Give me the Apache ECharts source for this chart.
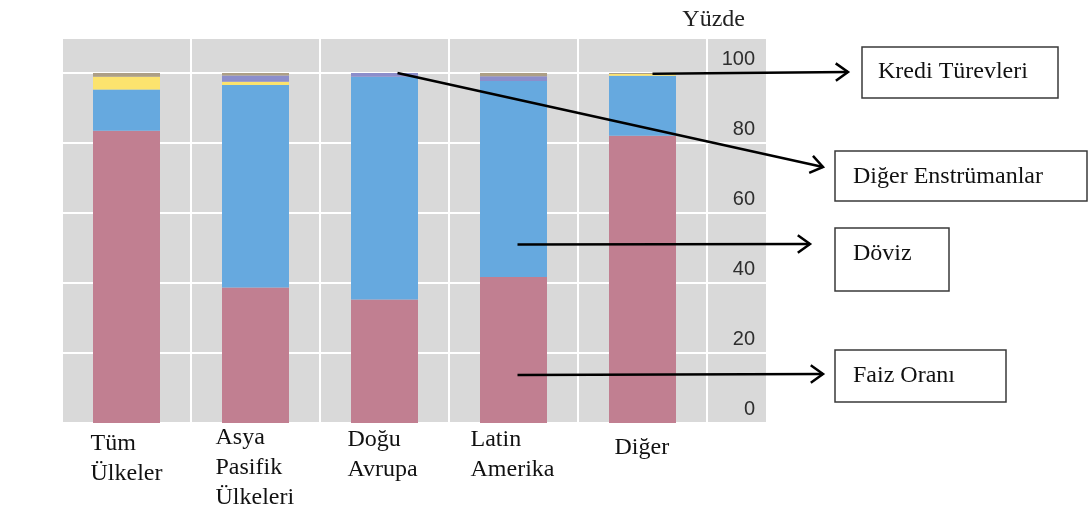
<!DOCTYPE html>
<html>
<head>
<meta charset="utf-8">
<script src="https://cdn.jsdelivr.net/npm/echarts@6/dist/echarts.min.js"></script>
<style>
  html, body { margin: 0; padding: 0; background: #ffffff; }
  #chart { width: 1089px; height: 518px; }
</style>
</head>
<body>
<div id="chart"></div>
<script>
// Bölgelere göre tezgâhüstü türev işlemlerin dağılımı (yüzde)
const categories = ['Tüm\nÜlkeler', 'Asya\nPasifik\nÜlkeleri', 'Doğu\nAvrupa', 'Latin\nAmerika', 'Diğer'];

const faizOrani         = [83.5, 38.7, 35.3, 41.7, 82.1];
const doviz             = [11.8, 57.9, 63.6, 56.0, 17.1];
const krediTurevleri    = [3.6,  0.9,  0.0,  0.0,  0.5];
const digerEnstrumanlar = [0.0,  1.8,  1.1,  1.4,  0.0];
const hisseSenedi       = [1.1,  0.7,  0.0,  0.9,  0.3];

const yTickValues = [0, 20, 40, 60, 80, 100];
const yAxisMax = 110;
const yAxisInterval = 20;

// callout anchors: [category index, value] on the bars
const calloutAnchors = [
  { text: 'Kredi Türevleri',    cat: 4, value: 99.8 },
  { text: 'Diğer Enstrümanlar', cat: 2, value: 100.0 },
  { text: 'Döviz',              cat: 3, value: 51.0 },
  { text: 'Faiz Oranı',         cat: 3, value: 13.7 }
];

// layout of the callout boxes (pixels)
const calloutLayout = [
  { dx: 10, tip: [848, 72],  box: [862, 47, 196, 51],  textPos: [878, 72] },
  { dx: 13, tip: [823, 167], box: [835, 151, 252, 50], textPos: [853, 177] },
  { dx: 4,  tip: [810, 244], box: [835, 228, 114, 63], textPos: [853, 254] },
  { dx: 4,  tip: [823, 374], box: [835, 350, 171, 52], textPos: [853, 376] }
];

const labelBlockWidth = [72, 80, 74, 86, 56];
const labelShift = [6, 0, 2, 2, 10];

const serif = '"Liberation Serif", "Times New Roman", serif';
const sans = '"Liberation Sans", Arial, sans-serif';

const rich = {};
labelBlockWidth.forEach((w, i) => {
  rich['w' + i] = {
    width: w, align: 'left', fontFamily: serif, fontSize: 24,
    lineHeight: 30, color: '#111'
  };
});

const chart = echarts.init(document.getElementById('chart'), null, { renderer: 'canvas' });

const barBase = { type: 'bar', stack: 'toplam', barWidth: 67, xAxisIndex: 0, yAxisIndex: 0 };

const option = {
  animation: false,
  backgroundColor: '#ffffff',
  grid: [
    { left: 62, width: 645, top: 38, bottom: 95, show: true, backgroundColor: '#D9D9D9', borderWidth: 0 },
    { left: 707, width: 59, top: 38, bottom: 95, show: true, backgroundColor: '#D9D9D9', borderWidth: 0 }
  ],
  xAxis: [
    {
      type: 'category',
      gridIndex: 0,
      data: categories.map((c, i) => ({ value: c, textStyle: { padding: [labelShift[i], 0, 0, 0] } })),
      axisLine: { show: false },
      axisTick: { show: false },
      splitLine: { show: true, lineStyle: { color: '#ffffff', width: 2 } },
      axisLabel: {
        interval: 0,
        margin: 0,
        verticalAlign: 'top',
        formatter: (value, index) => value.split('\n').map(l => '{w' + index + '|' + l + '}').join('\n'),
        rich: rich
      }
    },
    { type: 'category', gridIndex: 1, data: [''], show: false }
  ],
  yAxis: [
    {
      type: 'value', gridIndex: 0, min: 0, max: yAxisMax, interval: yAxisInterval,
      axisLine: { show: false }, axisTick: { show: false }, axisLabel: { show: false },
      splitLine: { show: true, lineStyle: { color: '#ffffff', width: 2 } }
    },
    {
      type: 'value', gridIndex: 1, position: 'right', min: 0, max: yAxisMax, interval: yAxisInterval,
      axisLine: { show: false }, axisTick: { show: false },
      axisLabel: {
        inside: true, margin: 11, color: '#2e2e2e', fontSize: 20, fontFamily: sans,
        verticalAlign: 'bottom', padding: [0, 0, 4, 0],
        formatter: v => (yTickValues.indexOf(v) >= 0 ? String(v) : '')
      },
      splitLine: { show: true, lineStyle: { color: '#ffffff', width: 2 } },
      name: 'Yüzde',
      nameLocation: 'end',
      nameGap: 6,
      nameTextStyle: {
        fontFamily: serif, fontSize: 24, color: '#222222',
        align: 'right', verticalAlign: 'bottom', padding: [0, 21, 0, 0]
      }
    }
  ],
  series: [
    Object.assign({}, barBase, { name: 'Faiz Oranı', data: faizOrani, itemStyle: { color: '#C17F91' } }),
    Object.assign({}, barBase, { name: 'Döviz', data: doviz, itemStyle: { color: '#66A9DF' } }),
    Object.assign({}, barBase, { name: 'Kredi Türevleri', data: krediTurevleri, itemStyle: { color: '#FCE36E' } }),
    Object.assign({}, barBase, { name: 'Diğer Enstrümanlar', data: digerEnstrumanlar, itemStyle: { color: '#8C8ECB' } }),
    Object.assign({}, barBase, { name: 'Hisse Senedi', data: hisseSenedi, itemStyle: { color: '#AD9F86' } })
  ]
};

chart.setOption(option);

// arrows and labelled boxes pointing at the bar segments
function chevron(tip, from, len, halfAngle) {
  const ang = Math.atan2(tip[1] - from[1], tip[0] - from[0]);
  const a1 = ang + Math.PI - halfAngle;
  const a2 = ang + Math.PI + halfAngle;
  return [
    [tip[0] + len * Math.cos(a1), tip[1] + len * Math.sin(a1)],
    [tip[0], tip[1]],
    [tip[0] + len * Math.cos(a2), tip[1] + len * Math.sin(a2)]
  ];
}

const graphics = [];
calloutAnchors.forEach((a, i) => {
  const lay = calloutLayout[i];
  const p = chart.convertToPixel({ gridIndex: 0 }, [a.cat, a.value]);
  const start = [p[0] + lay.dx, p[1]];
  graphics.push({
    type: 'polyline', z: 100,
    shape: { points: [start, lay.tip] },
    style: { stroke: '#000000', lineWidth: 2.5, fill: null }
  });
  graphics.push({
    type: 'polyline', z: 100,
    shape: { points: chevron(lay.tip, start, 15, 0.62) },
    style: { stroke: '#000000', lineWidth: 2.5, fill: null, lineJoin: 'miter' }
  });
  graphics.push({
    type: 'rect', z: 100,
    shape: { x: lay.box[0], y: lay.box[1], width: lay.box[2], height: lay.box[3] },
    style: { fill: '#ffffff', stroke: '#3a3a3a', lineWidth: 1.5 }
  });
  graphics.push({
    type: 'text', z: 101,
    x: lay.textPos[0], y: lay.textPos[1],
    style: { text: a.text, font: '24px ' + serif, fill: '#111111', verticalAlign: 'middle', align: 'left' }
  });
});

chart.setOption({ graphic: graphics });
</script>
</body>
</html>
